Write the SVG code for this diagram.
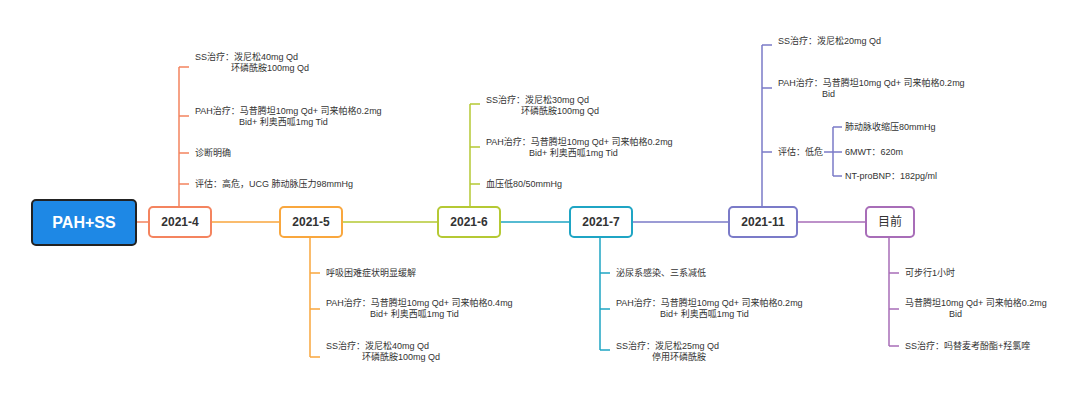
<svg xmlns="http://www.w3.org/2000/svg" width="1080" height="409" viewBox="0 0 1080 409">
<style>
text{font-family:"Liberation Sans","Noto Sans CJK SC",sans-serif;font-size:9px;fill:#333;dominant-baseline:central}
.n{fill:#fff;stroke-width:2}
.d{font-size:12px;font-weight:bold;text-anchor:middle;fill:#333}
.l{fill:none;stroke-width:1.5}
</style>
<rect width="1080" height="409" fill="#fff"/>
<g id="connectors">
<path class="l" stroke="#f4845f" d="M136 222H149M179 207V67M179 67h10M179 116h10M179 153h10M179 184h10"/>
<path class="l" stroke="#f9a73e" d="M211 222H280M310 237V357M310 273h10M310 309h10M310 357h10"/>
<path class="l" stroke="#b5c934" d="M342 222H438M470 207V104M470 104h10M470 147h10M470 184h10"/>
<path class="l" stroke="#1fa5c4" d="M500 222H570M600 237V350M600 273h10M600 309h10M600 350h10"/>
<path class="l" stroke="#7b7bc8" d="M632 222H729M762 207V45M762 45h10M762 88h10M762 152h10M824 152h9M833 127V176M833 127h9M833 152h9M833 176h9"/>
<path class="l" stroke="#a86db8" d="M797 222H866M889 237V346M889 273h10M889 309h10M889 346h10"/>
</g>
<g id="root"><rect x="32" y="200" width="104" height="45" rx="4" fill="#1e88e5" stroke="#222" stroke-width="2"/><text x="84" y="222.5" style="font-size:16px;font-weight:bold;fill:#fff;text-anchor:middle">PAH+SS</text></g>
<g id="n2021-4"><rect class="n" x="149" y="207" width="62" height="30" rx="4" stroke="#f4845f"/><text class="d" x="180" y="222">2021-4</text></g>
<g id="n2021-5"><rect class="n" x="280" y="207" width="62" height="30" rx="4" stroke="#f9a73e"/><text class="d" x="311" y="222">2021-5</text></g>
<g id="n2021-6"><rect class="n" x="438" y="207" width="62" height="30" rx="4" stroke="#b5c934"/><text class="d" x="469" y="222">2021-6</text></g>
<g id="n2021-7"><rect class="n" x="570" y="207" width="62" height="30" rx="4" stroke="#1fa5c4"/><text class="d" x="601" y="222">2021-7</text></g>
<g id="n2021-11"><rect class="n" x="729" y="207" width="68" height="30" rx="4" stroke="#7b7bc8"/><text class="d" x="763" y="222">2021-11</text></g>
<g id="nnow"><rect class="n" x="866" y="207" width="48" height="30" rx="4" stroke="#a86db8"/><text class="d" x="890" y="222" style="font-weight:normal">目前</text></g>
<g id="t2021-4">
<text x="195" y="57">SS治疗：泼尼松40mg Qd</text><text x="231" y="68">环磷酰胺100mg Qd</text>
<text x="195" y="111">PAH治疗：马昔腾坦10mg Qd+ 司来帕格0.2mg</text><text x="239" y="122">Bid+  利奥西呱1mg Tid</text>
<text x="195" y="153">诊断明确</text>
<text x="195" y="184">评估：高危，UCG 肺动脉压力98mmHg</text>
</g>
<g id="t2021-5">
<text x="326" y="273">呼吸困难症状明显缓解</text>
<text x="326" y="303">PAH治疗：马昔腾坦10mg Qd+ 司来帕格0.4mg</text><text x="370" y="314">Bid+  利奥西呱1mg  Tid</text>
<text x="326" y="346">SS治疗：泼尼松40mg Qd</text><text x="362" y="357">环磷酰胺100mg Qd</text>
</g>
<g id="t2021-6">
<text x="486" y="100">SS治疗：泼尼松30mg Qd</text><text x="521" y="111">环磷酰胺100mg Qd</text>
<text x="486" y="142">PAH治疗：马昔腾坦10mg Qd+ 司来帕格0.2mg</text><text x="529" y="153">Bid+  利奥西呱1mg  Tid</text>
<text x="486" y="184">血压低80/50mmHg</text>
</g>
<g id="t2021-7">
<text x="616" y="273">泌尿系感染、三系减低</text>
<text x="616" y="303">PAH治疗：马昔腾坦10mg Qd+ 司来帕格0.2mg</text><text x="660" y="314">Bid+  利奥西呱1mg  Tid</text>
<text x="616" y="346">SS治疗：泼尼松25mg Qd</text><text x="652" y="357">停用环磷酰胺</text>
</g>
<g id="t2021-11">
<text x="778" y="41">SS治疗：泼尼松20mg Qd</text>
<text x="778" y="83">PAH治疗：马昔腾坦10mg Qd+ 司来帕格0.2mg</text><text x="822" y="94">Bid</text>
<text x="778" y="152">评估：低危</text>
<text x="845" y="127">肺动脉收缩压80mmHg</text>
<text x="845" y="152">6MWT：620m</text>
<text x="845" y="176">NT-proBNP：182pg/ml</text>
</g>
<g id="tnow">
<text x="905" y="273">可步行1小时</text>
<text x="905" y="303">马昔腾坦10mg Qd+ 司来帕格0.2mg</text><text x="949" y="314">Bid</text>
<text x="905" y="346">SS治疗：吗替麦考酚酯+羟氯喹</text>
</g>
</svg>
